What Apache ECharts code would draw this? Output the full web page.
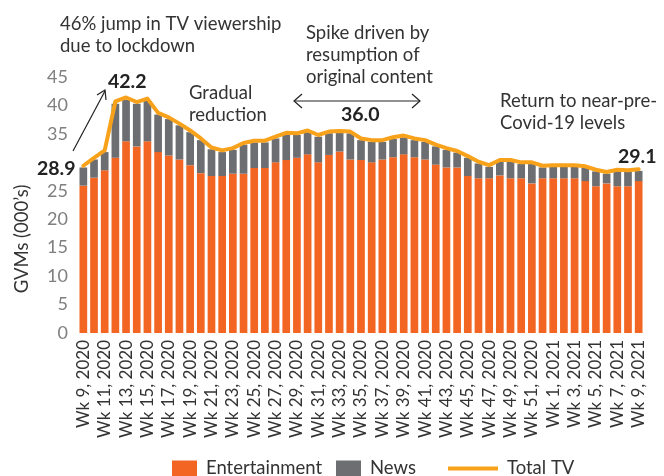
<!DOCTYPE html>
<html>
<head>
<meta charset="utf-8">
<script src="https://cdn.jsdelivr.net/npm/echarts@6/dist/echarts.min.js"></script>
<style>
    html, body { margin: 0; padding: 0; background: #fff; }
    #tv_chart { width: 664px; height: 476px; }
</style>
</head>
<body>
<div id="tv_chart"></div>
<script>
// weeks: Wk 9, 2020 .. Wk 52, 2020 then Wk 1..9, 2021
var weeks = [];
for (var w = 9; w <= 52; w++) { weeks.push('Wk ' + w + ', 2020'); }
for (var w2 = 1; w2 <= 9; w2++) { weeks.push('Wk ' + w2 + ', 2021'); }

var entertainment = [
    25.9, 27.3, 28.6, 30.8, 33.7, 32.8, 33.7, 31.8, 31.2, 30.5,
    29.5, 28.1, 27.6, 27.6, 28.0, 28.0, 29.0, 29.0, 30.0, 30.4,
    30.8, 31.4, 30.0, 31.3, 31.9, 30.5, 30.4, 30.0, 30.5, 30.9,
    31.4, 30.9, 30.5, 29.6, 29.1, 29.1, 27.6, 27.2, 27.2, 27.7,
    27.2, 27.2, 26.3, 27.2, 27.2, 27.2, 27.2, 26.7, 25.8, 26.3,
    25.8, 25.8, 26.7
];
var news = [
    3.2, 3.2, 3.2, 9.5, 7.3, 7.5, 7.1, 6.6, 6.4, 6.0,
    5.8, 5.8, 4.7, 4.2, 4.2, 5.1, 4.5, 4.5, 4.2, 4.5,
    4.0, 3.9, 4.5, 3.8, 3.3, 4.6, 3.5, 3.6, 3.1, 3.2,
    3.0, 3.0, 3.1, 3.2, 3.1, 2.6, 3.2, 2.6, 2.0, 2.4,
    2.9, 2.5, 3.4, 1.9, 2.0, 2.0, 2.0, 2.3, 2.6, 1.7,
    2.6, 2.5, 1.8
];
var totalTV = [
    29.4, 30.8, 32.1, 40.7, 41.4, 40.6, 41.2, 38.7, 37.9, 36.8,
    35.6, 34.2, 32.6, 32.1, 32.5, 33.4, 33.8, 33.8, 34.5, 35.2,
    35.1, 35.6, 34.8, 35.4, 35.5, 35.4, 34.2, 33.9, 33.9, 34.4,
    34.7, 34.2, 33.9, 33.1, 32.5, 32.0, 31.1, 30.1, 29.5, 30.4,
    30.4, 30.0, 30.0, 29.4, 29.5, 29.5, 29.5, 29.3, 28.7, 28.3,
    28.7, 28.6, 28.8
];
var yTicks = [0, 5, 10, 15, 20, 25, 30, 35, 40, 45];

var fontFamily = 'Lato, "Open Sans", sans-serif';
var textColor = '#333';
var noteSize = 18.5;

function note(x, y, text, bold) {
    return {
        type: 'text',
        left: x,
        top: y,
        style: {
            text: text,
            fill: bold ? '#222' : textColor,
            font: (bold ? 'bold 19.5px ' : noteSize + 'px ') + fontFamily,
            lineHeight: 22
        }
    };
}

function legendAt(x, name, width, height, icon) {
    return {
        data: [{ name: name, icon: icon }],
        left: x,
        top: 459,
        padding: 0,
        itemWidth: width,
        itemHeight: height,
        itemGap: 0,
        textStyle: { fontSize: noteSize, color: textColor, padding: [0, 0, 0, 4] }
    };
}

var chart = echarts.init(document.getElementById('tv_chart'));

var option = {
    animation: false,
    textStyle: { fontFamily: fontFamily },
    grid: { left: 78, right: 20, top: 77, bottom: 143, containLabel: false },
    legend: [
        legendAt(172, 'Entertainment', 25, 16, 'rect'),
        legendAt(336, 'News', 25, 16, 'rect'),
        legendAt(448, 'Total TV', 50, 4, 'rect')
    ],
    xAxis: {
        type: 'category',
        data: weeks,
        axisLine: { show: false },
        axisTick: { show: false },
        axisLabel: {
            interval: 1,
            rotate: 90,
            margin: 7,
            fontSize: 17,
            color: textColor
        }
    },
    yAxis: {
        type: 'value',
        min: yTicks[0],
        max: yTicks[yTicks.length - 1],
        interval: 5,
        splitLine: { show: false },
        axisLine: { show: false },
        axisTick: { show: false },
        axisLabel: {
            margin: 10,
            fontSize: 18,
            color: '#7f7f7f',
            formatter: function (v) {
                // 30 is covered by the 28.9 callout
                return v === 30 ? '' : String(v);
            }
        }
    },
    series: [
        {
            name: 'Entertainment',
            type: 'bar',
            stack: 'tv',
            barCategoryGap: '28%',
            itemStyle: { color: '#f26522' },
            data: entertainment
        },
        {
            name: 'News',
            type: 'bar',
            stack: 'tv',
            itemStyle: { color: '#6d6e71' },
            data: news
        },
        {
            name: 'Total TV',
            type: 'line',
            symbol: 'none',
            lineStyle: { color: '#f8a11b', width: 4, join: 'round', cap: 'round' },
            itemStyle: { color: '#f8a11b' },
            data: totalTV,
            z: 5
        }
    ],
    graphic: [
        {
            type: 'text',
            x: 22,
            y: 239,
            rotation: Math.PI / 2,
            style: {
                text: 'GVMs (000\u2019s)',
                fill: textColor,
                font: noteSize + 'px ' + fontFamily,
                align: 'center',
                verticalAlign: 'middle'
            }
        },
        note(60, 13, '46% jump in TV viewership\ndue to lockdown', false),
        note(108, 71, '42.2', true),
        note(37, 158, '28.9', true),
        note(189, 82, 'Gradual\nreduction', false),
        note(306, 22, 'Spike driven by\nresumption of\noriginal content', false),
        note(341, 104, '36.0', true),
        note(500, 90, 'Return to near-pre-\nCovid-19 levels', false),
        note(618, 146, '29.1', true),
        {
            type: 'polyline',
            shape: { points: [[73, 151], [105, 91]] },
            style: { stroke: '#222', lineWidth: 1.2, fill: null }
        },
        {
            type: 'polyline',
            shape: { points: [[97, 95], [105, 90], [106, 100]] },
            style: { stroke: '#222', lineWidth: 1.2, fill: null }
        },
        {
            type: 'polyline',
            shape: { points: [[294, 101], [420, 101]] },
            style: { stroke: '#222', lineWidth: 1.2, fill: null }
        },
        {
            type: 'polyline',
            shape: { points: [[302, 94], [294, 101], [302, 108]] },
            style: { stroke: '#222', lineWidth: 1.2, fill: null }
        },
        {
            type: 'polyline',
            shape: { points: [[412, 94], [420, 101], [412, 108]] },
            style: { stroke: '#222', lineWidth: 1.2, fill: null }
        }
    ]
};

chart.setOption(option);
</script>
</body>
</html>
